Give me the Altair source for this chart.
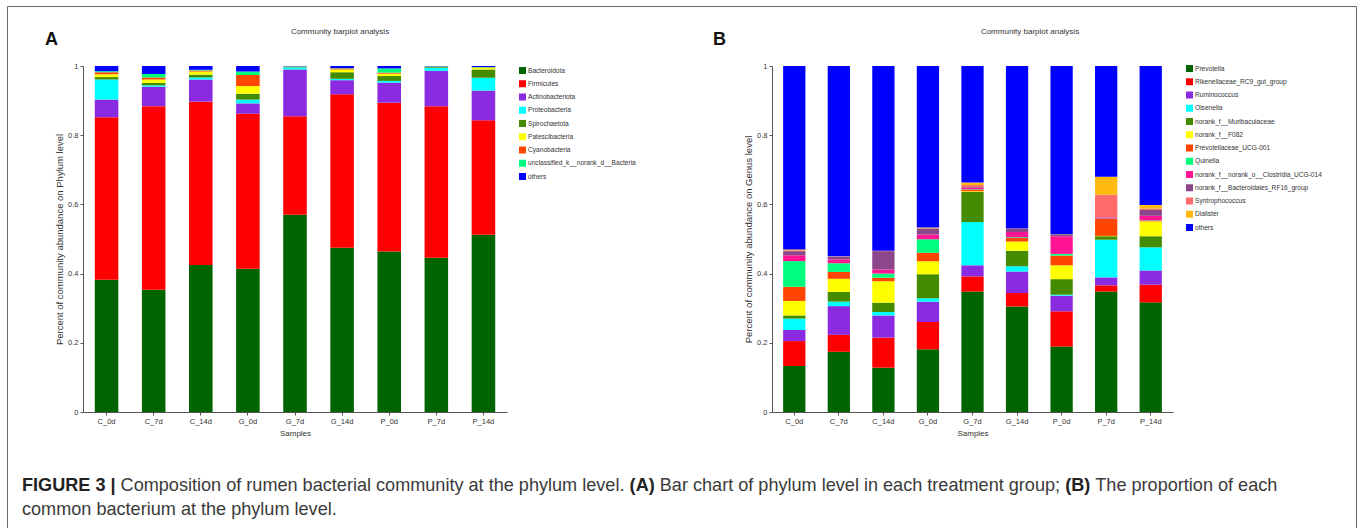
import altair as alt
import pandas as pd

samples = ["C_0d", "C_7d", "C_14d", "G_0d", "G_7d", "G_14d", "P_0d", "P_7d", "P_14d"]

# ---------------- Panel A : phylum level ----------------
phyla = ["Bacteroidota", "Firmicutes", "Actinobacteriota", "Proteobacteria",
         "Spirochaetota", "Patescibacteria", "Cyanobacteria",
         "unclassified_k__norank_d__Bacteria", "others"]
phylum_colors = ["#006400", "#FF0000", "#8A2BE2", "#00FFFF", "#458B00",
                 "#FFFF00", "#FF4500", "#00FF7F", "#0000FF"]

bacteroidota = [0.382, 0.353, 0.425, 0.414, 0.570, 0.475, 0.464, 0.446, 0.512]
firmicutes = [0.470, 0.531, 0.472, 0.448, 0.285, 0.443, 0.430, 0.438, 0.331]
actinobacteriota = [0.051, 0.056, 0.064, 0.030, 0.135, 0.041, 0.058, 0.102, 0.086]
proteobacteria = [0.058, 0.004, 0.006, 0.011, 0.006, 0.004, 0.005, 0.009, 0.037]
spirochaetota = [0.007, 0.007, 0.008, 0.017, 0.001, 0.019, 0.014, 0.002, 0.024]
patescibacteria = [0.008, 0.010, 0.009, 0.022, 0.0005, 0.008, 0.007, 0.0005, 0.005]
cyanobacteria = [0.006, 0.006, 0.003, 0.032, 0.0005, 0.003, 0.003, 0.0005, 0.001]
unclassified_bacteria = [0.003, 0.010, 0.002, 0.010, 0.001, 0.001, 0.012, 0.001, 0.001]
others_phylum = [0.015, 0.023, 0.011, 0.016, 0.001, 0.006, 0.007, 0.001, 0.003]

phylum_series = [bacteroidota, firmicutes, actinobacteriota, proteobacteria,
                 spirochaetota, patescibacteria, cyanobacteria,
                 unclassified_bacteria, others_phylum]

# ---------------- Panel B : genus level ----------------
genera = ["Prevotella", "Rikenellaceae_RC9_gut_group", "Ruminococcus", "Olsenella",
          "norank_f__Muribaculaceae", "norank_f__F082", "Prevotellaceae_UCG-001",
          "Quinella", "norank_f__norank_o__Clostridia_UCG-014",
          "norank_f__Bacteroidales_RF16_group", "Syntrophococcus", "Dialister", "others"]
genus_colors = ["#006400", "#FF0000", "#8A2BE2", "#00FFFF", "#458B00", "#FFFF00",
                "#FF4500", "#00FF7F", "#FF1493", "#8B4789", "#FF6A6A", "#FFB90F",
                "#0000FF"]

prevotella = [0.133, 0.174, 0.128, 0.181, 0.348, 0.305, 0.189, 0.348, 0.317]
rikenellaceae = [0.072, 0.049, 0.087, 0.079, 0.044, 0.039, 0.102, 0.018, 0.051]
ruminococcus = [0.032, 0.083, 0.064, 0.059, 0.032, 0.062, 0.045, 0.023, 0.041]
olsenella = [0.033, 0.013, 0.010, 0.010, 0.125, 0.015, 0.003, 0.109, 0.067]
muribaculaceae = [0.009, 0.028, 0.027, 0.069, 0.087, 0.045, 0.045, 0.010, 0.032]
f082 = [0.042, 0.038, 0.062, 0.038, 0.002, 0.027, 0.040, 0.001, 0.043]
prevotellaceae_ucg001 = [0.041, 0.020, 0.010, 0.024, 0.005, 0.010, 0.028, 0.049, 0.002]
quinella = [0.074, 0.025, 0.012, 0.039, 0.001, 0.002, 0.005, 0.001, 0.001]
clostridia_ucg014 = [0.017, 0.011, 0.012, 0.014, 0.004, 0.015, 0.051, 0.003, 0.013]
bacteroidales_rf16 = [0.012, 0.008, 0.053, 0.017, 0.002, 0.009, 0.005, 0.001, 0.017]
syntrophococcus = [0.002, 0.0005, 0.0005, 0.001, 0.006, 0.0005, 0.0005, 0.065, 0.004]
dialister = [0.003, 0.0005, 0.0005, 0.002, 0.007, 0.0005, 0.0005, 0.052, 0.010]
others_genus = [0.530, 0.550, 0.534, 0.467, 0.337, 0.470, 0.486, 0.320, 0.402]

genus_series = [prevotella, rikenellaceae, ruminococcus, olsenella, muribaculaceae,
                f082, prevotellaceae_ucg001, quinella, clostridia_ucg014,
                bacteroidales_rf16, syntrophococcus, dialister, others_genus]

title_text = "Community barplot analysis"
caption_line1 = [
    ("FIGURE 3 |", True, -61),
    ("Composition of rumen bacterial community at the phylum level.", False, 37.6),
    ("(A)", True, 546.6),
    ("Bar chart of phylum level in each treatment group;", False, 576.8),
    ("(B)", True, 982.2),
    ("The proportion of each", False, 1012.3),
]
caption_line2 = "common bacterium at the phylum level."

FONT = "Liberation Sans"
CAP_SIZE = 18.1


def long_table(taxa, series):
    rows = []
    for i, (name, vals) in enumerate(zip(taxa, series)):
        for s, v in zip(samples, vals):
            rows.append({"sample": s, "taxon": name, "value": v, "idx": i})
    return pd.DataFrame(rows)


def text_layer(txt, x, y, size, bold=False, align="left", color="#333333"):
    return alt.Chart(pd.DataFrame({"t": [txt]})).mark_text(
        font=FONT, fontSize=size, fontWeight="bold" if bold else "normal",
        align=align, baseline="alphabetic", color=color
    ).encode(text="t:N", x=alt.value(x), y=alt.value(y))


def bar_panel(taxa, series, colors, ytitle, width, height, lx, ly, rowpad):
    df = long_table(taxa, series)
    return alt.Chart(df).mark_bar().encode(
        x=alt.X("sample:N", sort=samples,
                scale=alt.Scale(paddingInner=0.5, paddingOuter=0.25),
                axis=alt.Axis(title="Samples", labelAngle=0, titlePadding=5,
                              titleFontSize=8)),
        y=alt.Y("value:Q", stack="zero",
                scale=alt.Scale(domain=[0, 1], nice=False),
                axis=alt.Axis(title=ytitle, values=[0, 0.2, 0.4, 0.6, 0.8, 1],
                              labelExpr="'' + datum.value", grid=False,
                              titlePadding=3, titleFontSize=9.5)),
        color=alt.Color("taxon:N", sort=taxa,
                        scale=alt.Scale(domain=taxa, range=colors),
                        legend=alt.Legend(title=None, orient="none",
                                          legendX=lx, legendY=ly,
                                          symbolType="square", symbolSize=49,
                                          symbolStrokeWidth=0, labelFontSize=6.6,
                                          labelFont=FONT, labelColor="#333333",
                                          labelOffset=2, rowPadding=rowpad,
                                          padding=0, labelLimit=300)),
        order=alt.Order("idx:Q", sort="ascending"),
    ).properties(width=width, height=height)


WA, WB, H = 424, 401, 346

bars_a = bar_panel(phyla, phylum_series, phylum_colors,
                   "Percent of community abundance on Phylum level",
                   WA, H, 436, 1, 5.25)
bars_b = bar_panel(genera, genus_series, genus_colors,
                   "Percent of community abundance on Genus level",
                   WB, H, 414, -1, 5.25)

dummy = pd.DataFrame({"k": [0]})
border_color = "#666666"
left_border = alt.Chart(dummy).mark_rule(color=border_color, strokeWidth=1).encode(
    x=alt.value(-75.5), y=alt.value(-59.5), y2=alt.value(462))
top_border = alt.Chart(dummy).mark_rule(color=border_color, strokeWidth=1).encode(
    x=alt.value(-75.5), x2=alt.value(1273.5), y=alt.value(-59.5))
right_border = alt.Chart(dummy).mark_rule(color=border_color, strokeWidth=1).encode(
    x=alt.value(1273.5), y=alt.value(-59.5), y2=alt.value(462))

layers_a = [bars_a, left_border, top_border, right_border,
            text_layer("A", -38, -21, 18, bold=True, color="#111111"),
            text_layer(title_text, 257, -32, 8, align="center")]
for txt, bold, x in caption_line1:
    layers_a.append(text_layer(txt, x, 425, CAP_SIZE, bold=bold,
                               color="#222222" if bold else "#3a3a3a"))
layers_a.append(text_layer(caption_line2, -61, 449, CAP_SIZE, color="#3a3a3a"))

panel_a = alt.layer(*layers_a)
panel_b = alt.layer(bars_b,
                    text_layer("B", -59, -21, 18, bold=True, color="#111111"),
                    text_layer(title_text, 258, -32, 8, align="center"))

chart = alt.hconcat(panel_a, panel_b, spacing=265, bounds="flush").resolve_scale(
    color="independent", x="independent", y="independent"
).resolve_legend(color="independent").properties(
    padding={"left": 7, "top": 6, "right": 0, "bottom": 0},
    background="white",
).configure_view(stroke=None).configure_axis(
    labelFont=FONT, titleFont=FONT, labelFontSize=7.5, titleFontSize=8.5,
    titleFontWeight="normal", labelColor="#333333", titleColor="#333333",
    domainColor="#555555", tickColor="#555555", tickSize=3, labelPadding=2,
)

chart.save("out.html", embed_options={"renderer": "svg", "actions": False})
